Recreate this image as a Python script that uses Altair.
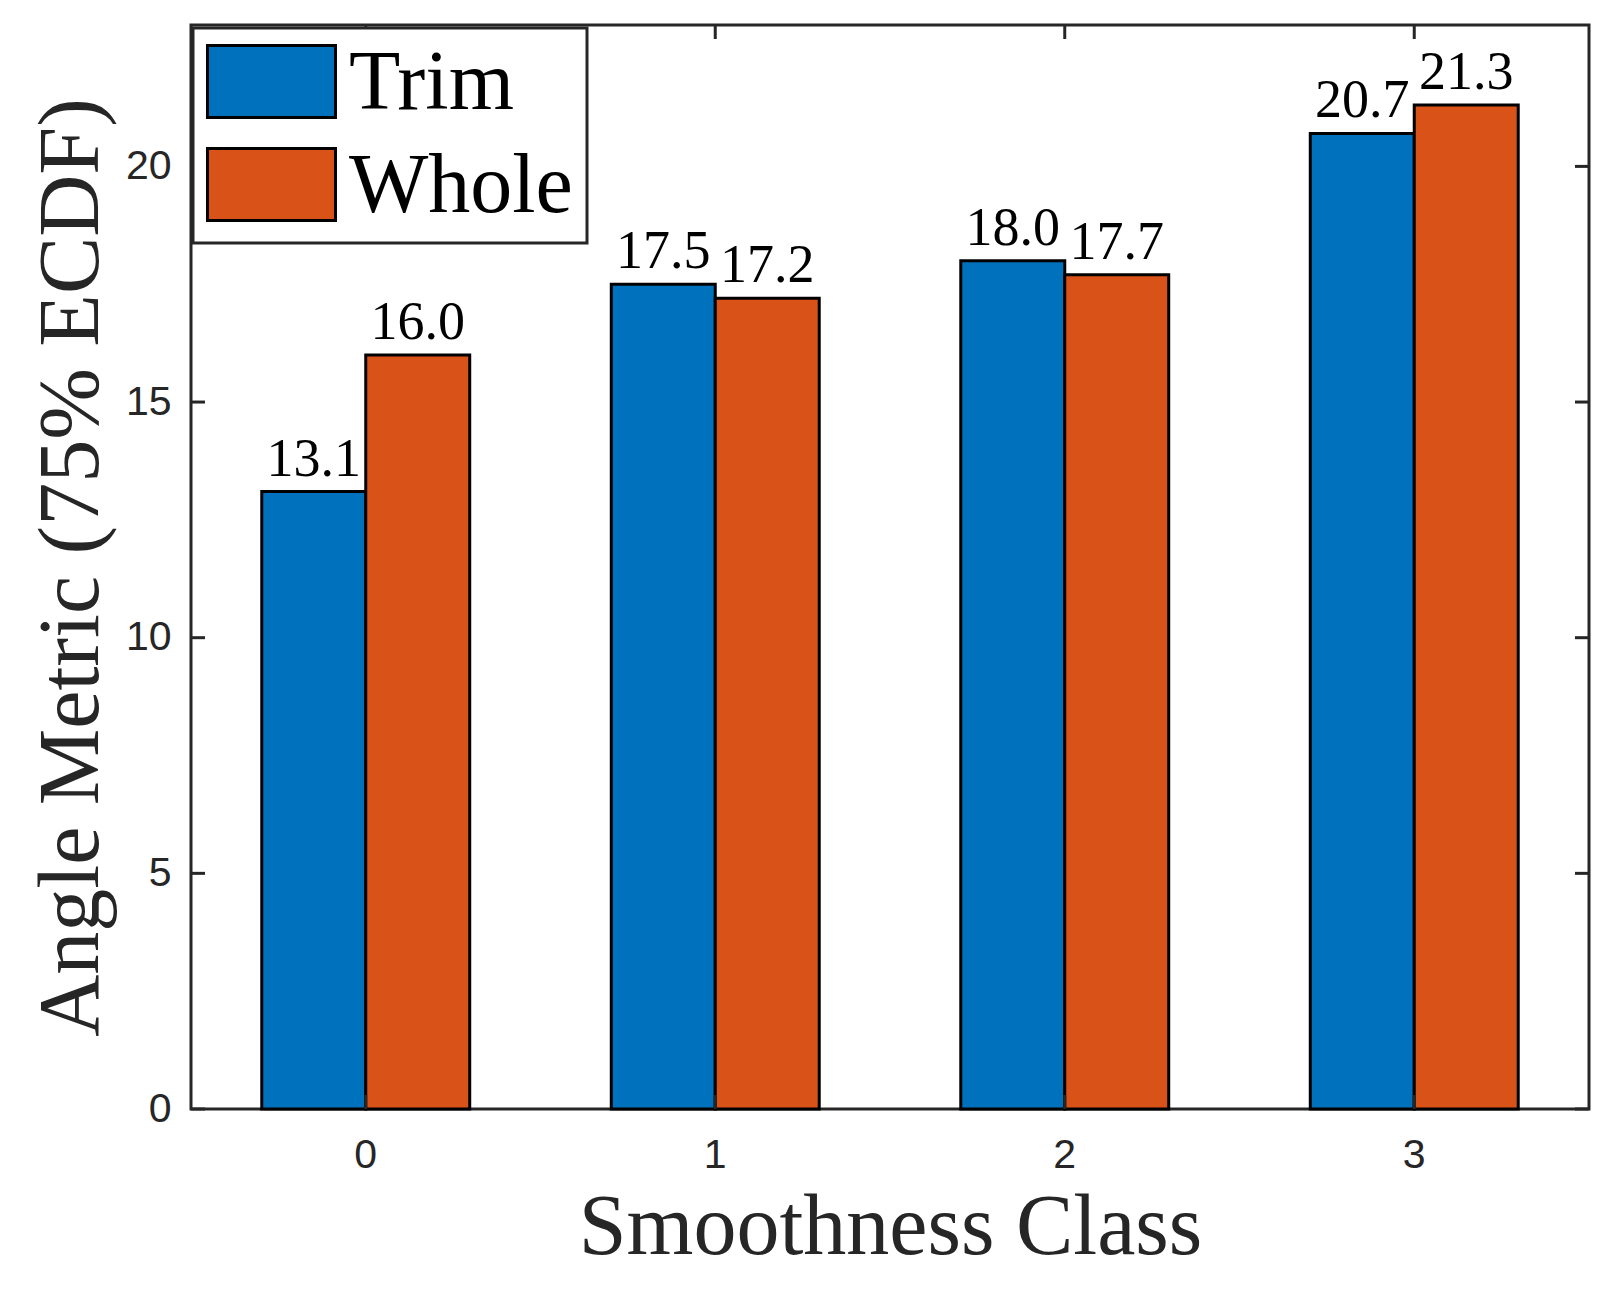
import altair as alt
import pandas as pd

# values
classes = ["0", "1", "2", "3"]
trim_vals = [13.1, 17.5, 18.0, 20.7]
whole_vals = [16.0, 17.2, 17.7, 21.3]
methods = ["Trim", "Whole"]
method_colors = ["#0072BD", "#D95319"]
y_ticks = [0, 5, 10, 15, 20]

W, H = 1398, 1084
TICK = 14
AXIS_COLOR = "#262626"
SERIF = "Liberation Serif"
SANS = "Liberation Sans"

df = pd.DataFrame({
    "cls": classes * 2,
    "method": ["Trim"] * len(classes) + ["Whole"] * len(classes),
    "value": trim_vals + whole_vals,
})
ticks_y = pd.DataFrame({"t": y_ticks})
ticks_x = pd.DataFrame({"cls": classes})

x_scale = alt.Scale(domain=classes, paddingInner=0.405, paddingOuter=0.2025)
y_scale = alt.Scale(domain=[0, 23], nice=False, zero=True)

# rectangle swatch for the legend (wider than tall, like MATLAB)
swatch = "M-1.107,-1.03H2.306V0.89H-1.107Z"

bars = alt.Chart(df).mark_bar(stroke="black", strokeWidth=3, opacity=1).encode(
    x=alt.X("cls:N", scale=x_scale, sort=classes,
            axis=alt.Axis(title="Smoothness Class", labelAngle=0, ticks=False, domain=False,
                          labelFont=SANS, labelFontSize=41, labelColor=AXIS_COLOR,
                          labelPadding=26, titleFont=SERIF, titleFontSize=86,
                          titleFontWeight="normal", titleColor=AXIS_COLOR, titlePadding=10)),
    xOffset=alt.XOffset("method:N", sort=methods, scale=alt.Scale(paddingInner=0, paddingOuter=0)),
    y=alt.Y("value:Q", scale=y_scale,
            axis=alt.Axis(title="Angle Metric (75% ECDF)", values=y_ticks, ticks=False,
                          domain=False, grid=False, labelFont=SANS, labelFontSize=41,
                          labelColor=AXIS_COLOR, labelPadding=20, titleFont=SERIF,
                          titleFontSize=86, titleFontWeight="normal", titleColor=AXIS_COLOR,
                          titlePadding=10)),
    color=alt.Color("method:N", scale=alt.Scale(domain=methods, range=method_colors),
                    legend=alt.Legend(title=None, orient="none", legendX=2, legendY=3,
                                      symbolType=swatch, symbolSize=5625,
                                      symbolStrokeColor="black", symbolStrokeWidth=3,
                                      symbolOpacity=1, labelFont=SERIF, labelFontSize=84,
                                      labelColor="black", labelOffset=58, labelLimit=500,
                                      rowPadding=16, padding=14, fillColor="white")),
)

labels = alt.Chart(df).mark_text(font=SERIF, fontSize=54, color="black",
                                 baseline="alphabetic", dy=-16).encode(
    x=alt.X("cls:N", scale=x_scale, sort=classes),
    xOffset=alt.XOffset("method:N", sort=methods),
    y=alt.Y("value:Q", scale=y_scale),
    text=alt.Text("value:Q", format=".1f"),
)

# MATLAB style inward ticks on all four sides
tick_style = dict(color=AXIS_COLOR, strokeWidth=3)
y_left = alt.Chart(ticks_y).mark_rule(**tick_style).encode(
    y=alt.Y("t:Q", scale=y_scale), x=alt.value(0), x2=alt.value(TICK))
y_right = alt.Chart(ticks_y).mark_rule(**tick_style).encode(
    y=alt.Y("t:Q", scale=y_scale), x=alt.value(W - TICK), x2=alt.value(W))
x_bottom = alt.Chart(ticks_x).mark_rule(**tick_style).encode(
    x=alt.X("cls:N", scale=x_scale, sort=classes), y=alt.value(H - TICK), y2=alt.value(H))
x_top = alt.Chart(ticks_x).mark_rule(**tick_style).encode(
    x=alt.X("cls:N", scale=x_scale, sort=classes), y=alt.value(0), y2=alt.value(TICK))

chart = alt.layer(bars, labels, y_left, y_right, x_bottom, x_top).properties(
    width=W,
    height=H,
    background="white",
    autosize=alt.AutoSizeParams(type="none"),
    padding={"left": 183, "top": 17, "right": 13, "bottom": 175},
).configure_view(
    stroke=AXIS_COLOR,
    strokeWidth=3,
).configure_legend(
    strokeColor=AXIS_COLOR,
    strokeWidth=3,
)

chart.save("out.html", embed_options={"renderer": "svg", "actions": False})
